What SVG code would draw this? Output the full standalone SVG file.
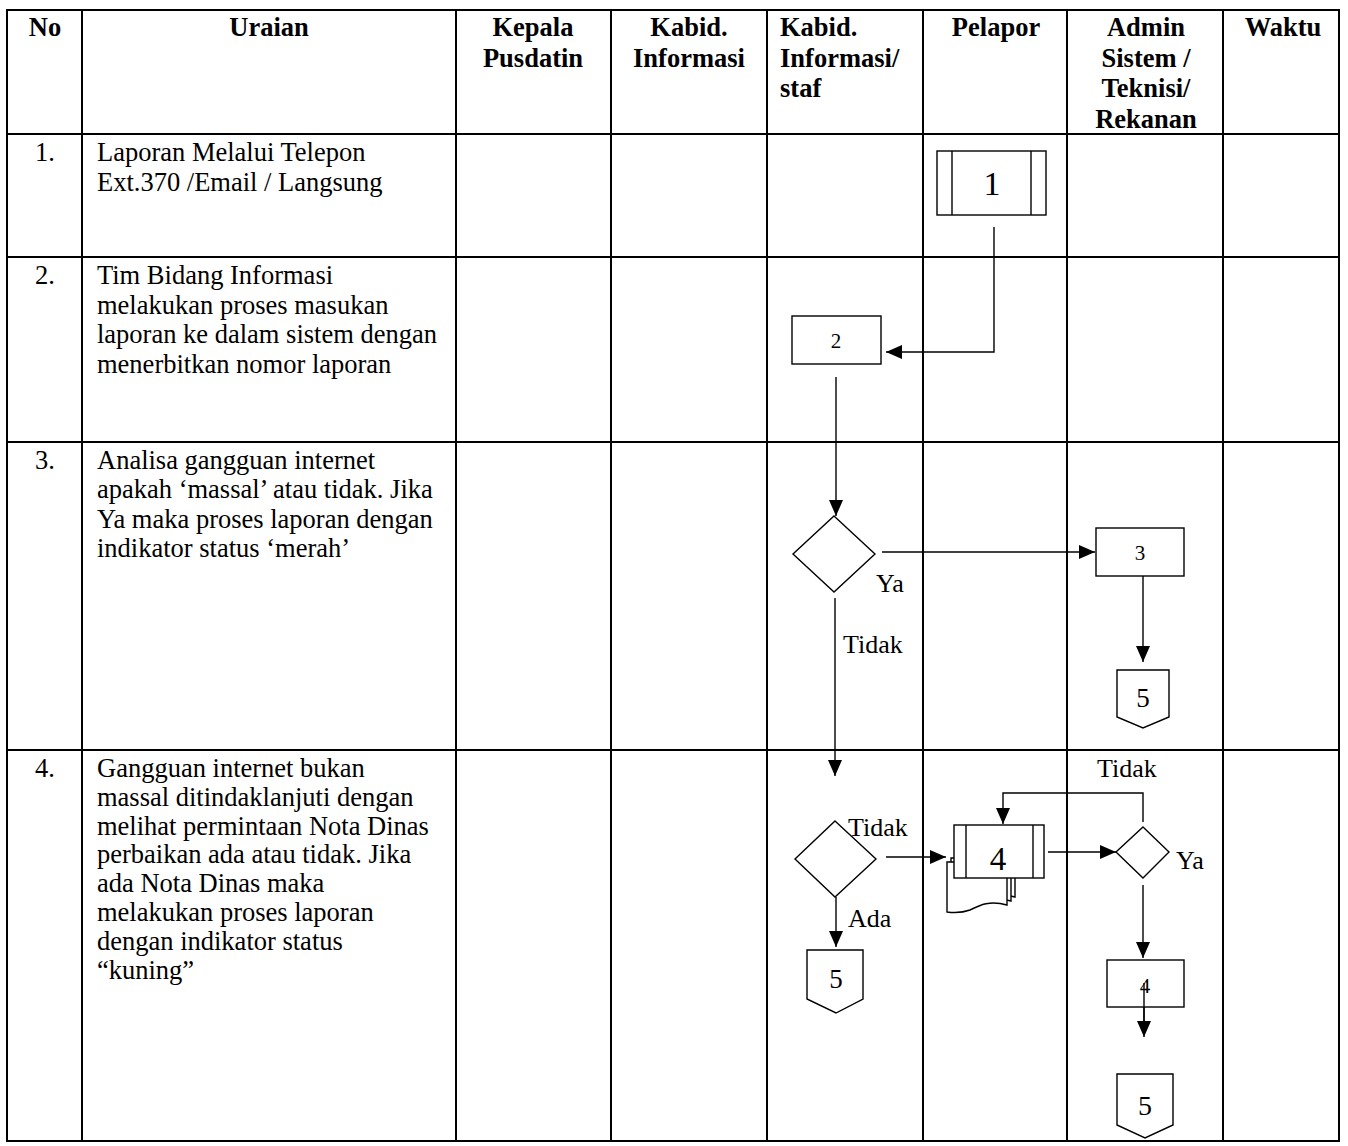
<svg xmlns="http://www.w3.org/2000/svg" width="1348" height="1146" viewBox="0 0 1348 1146">
<style>
.grid{stroke:#000;stroke-width:2;fill:none}
.sh{stroke:#000;stroke-width:1.4;fill:#fff}
.ln{stroke:#000;stroke-width:1.4;fill:none}
.hd{font-family:"Liberation Serif","Times New Roman",serif;font-weight:bold;font-size:26.5px;fill:#000}
.tx{font-family:"Liberation Serif","Times New Roman",serif;font-size:26.5px;fill:#000}
.lb{font-family:"Liberation Serif","Times New Roman",serif;font-size:26px;fill:#000}
.nb{font-family:"Liberation Serif","Times New Roman",serif;fill:#000;text-anchor:middle}
.c{text-anchor:middle}
</style>
<defs>
<marker id="ah" markerUnits="userSpaceOnUse" markerWidth="16" markerHeight="14" refX="16" refY="7" orient="auto">
<path d="M0,0 L16,7 L0,14 Z" fill="#000"/>
</marker>
</defs>
<rect width="1348" height="1146" fill="#fff"/>
<g id="table">
<rect class="grid" x="7" y="10" width="1332" height="1131"/>
<line class="grid" x1="82" y1="10" x2="82" y2="1141"/>
<line class="grid" x1="456" y1="10" x2="456" y2="1141"/>
<line class="grid" x1="611" y1="10" x2="611" y2="1141"/>
<line class="grid" x1="767" y1="10" x2="767" y2="1141"/>
<line class="grid" x1="923" y1="10" x2="923" y2="1141"/>
<line class="grid" x1="1067" y1="10" x2="1067" y2="1141"/>
<line class="grid" x1="1223" y1="10" x2="1223" y2="1141"/>
<line class="grid" x1="7" y1="134" x2="1339" y2="134"/>
<line class="grid" x1="7" y1="257" x2="1339" y2="257"/>
<line class="grid" x1="7" y1="442" x2="1339" y2="442"/>
<line class="grid" x1="7" y1="750" x2="1339" y2="750"/>
</g>
<g id="header">
<text class="hd c" x="45" y="36">No</text>
<text class="hd c" x="269" y="36">Uraian</text>
<text class="hd c" x="533" y="36">Kepala<tspan x="533" dy="30.5">Pusdatin</tspan></text>
<text class="hd c" x="689" y="36">Kabid.<tspan x="689" dy="30.5">Informasi</tspan></text>
<text class="hd" x="780" y="36">Kabid.<tspan x="780" dy="30.5">Informasi/</tspan><tspan x="780" dy="30.5">staf</tspan></text>
<text class="hd c" x="996" y="36">Pelapor</text>
<text class="hd c" x="1146" y="36">Admin<tspan x="1146" dy="30.5">Sistem /</tspan><tspan x="1146" dy="30.5">Teknisi/</tspan><tspan x="1146" dy="30.5">Rekanan</tspan></text>
<text class="hd c" x="1283" y="36">Waktu</text>
</g>
<g id="rows">
<text class="tx c" x="45" y="161">1.</text>
<text class="tx" x="97" y="161">Laporan Melalui Telepon<tspan x="97" dy="30">Ext.370 /Email / Langsung</tspan></text>
<text class="tx c" x="45" y="284">2.</text>
<text class="tx" x="97" y="284">Tim Bidang Informasi<tspan x="97" dy="29.7">melakukan proses masukan</tspan><tspan x="97" dy="29.7">laporan ke dalam sistem dengan</tspan><tspan x="97" dy="29.7">menerbitkan nomor laporan</tspan></text>
<text class="tx c" x="45" y="469">3.</text>
<text class="tx" x="97" y="469">Analisa gangguan internet<tspan x="97" dy="29.3">apakah ‘massal’ atau tidak. Jika</tspan><tspan x="97" dy="29.3">Ya maka proses laporan dengan</tspan><tspan x="97" dy="29.3">indikator status ‘merah’</tspan></text>
<text class="tx c" x="45" y="777">4.</text>
<text class="tx" x="97" y="777">Gangguan internet bukan<tspan x="97" dy="28.8">massal ditindaklanjuti dengan</tspan><tspan x="97" dy="28.8">melihat permintaan Nota Dinas</tspan><tspan x="97" dy="28.8">perbaikan ada atau tidak. Jika</tspan><tspan x="97" dy="28.8">ada Nota Dinas maka</tspan><tspan x="97" dy="28.8">melakukan proses laporan</tspan><tspan x="97" dy="28.8">dengan indikator status</tspan><tspan x="97" dy="28.8">“kuning”</tspan></text>
</g>
<g id="connectors">
<path class="ln" d="M994,227 V352 H886" marker-end="url(#ah)"/>
<path class="ln" d="M836,377 V516" marker-end="url(#ah)"/>
<path class="ln" d="M882,552 H1095" marker-end="url(#ah)"/>
<path class="ln" d="M1143,576 V662" marker-end="url(#ah)"/>
<path class="ln" d="M835,598 V776" marker-end="url(#ah)"/>
<path class="ln" d="M886,857 H946" marker-end="url(#ah)"/>
<path class="ln" d="M1048,852 H1116" marker-end="url(#ah)"/>
<path class="ln" d="M1143,822 V793 H1003 V824" marker-end="url(#ah)"/>
<path class="ln" d="M1143,885 V958" marker-end="url(#ah)"/>
<path class="ln" d="M1144,983 V1037" marker-end="url(#ah)"/>
<path class="ln" d="M836,897 V947" marker-end="url(#ah)"/>
<text class="lb" x="876" y="592">Ya</text>
<text class="lb" x="843" y="653">Tidak</text>
<text class="lb" x="848" y="836">Tidak</text>
<text class="lb" x="848" y="927">Ada</text>
<text class="lb" x="1097" y="777">Tidak</text>
<text class="lb" x="1176" y="869">Ya</text>
</g>
<g id="node1">
<rect class="sh" x="937" y="151" width="109" height="64"/>
<line class="ln" x1="952" y1="151" x2="952" y2="215"/>
<line class="ln" x1="1031" y1="151" x2="1031" y2="215"/>
<text class="nb" x="992" y="195" font-size="34">1</text>
</g>
<g id="node2">
<rect class="sh" x="792" y="316" width="89" height="48"/>
<text class="nb" x="836" y="348" font-size="21">2</text>
</g>
<g id="decision1">
<polygon class="sh" points="834,516 875,554 834,592 793,554"/>
</g>
<g id="node3">
<rect class="sh" x="1096" y="528" width="88" height="48"/>
<text class="nb" x="1140" y="560" font-size="21">3</text>
</g>
<g id="connector5a">
<path class="sh" d="M1117,670 H1169 V717 L1143,728 L1117,717 Z"/>
<text class="nb" x="1143" y="707" font-size="27">5</text>
</g>
<g id="decision2">
<polygon class="sh" points="835,821 876,859 835,897 795,859"/>
</g>
<g id="node4doc">
<path class="sh" d="M955,854 H1015 V897 C998,892 988,897 978,902 C970,905 963,905 955,904 Z"/>
<path class="sh" d="M951,858 H1011 V901 C994,896 984,901 974,906 C966,909 959,909 951,908 Z"/>
<path class="sh" d="M947,862 H1007 V905 C990,900 980,905 970,910 C962,913 955,913 947,912 Z"/>
<rect class="sh" x="954" y="825" width="90" height="53"/>
<line class="ln" x1="966" y1="825" x2="966" y2="878"/>
<line class="ln" x1="1033" y1="825" x2="1033" y2="878"/>
<text class="nb" x="998" y="870" font-size="33">4</text>
</g>
<g id="decision3">
<polygon class="sh" points="1143,827 1169,852 1143,878 1116,852"/>
</g>
<g id="node4b">
<rect class="sh" x="1107" y="960" width="77" height="47"/>
<text class="nb" x="1145" y="993" font-size="21">4</text>
<line class="ln" x1="1144" y1="983" x2="1144" y2="1022"/>
</g>
<g id="connector5c">
<path class="sh" d="M807,950 H863 V999 L836,1013 L807,999 Z"/>
<text class="nb" x="836" y="988" font-size="27">5</text>
</g>
<g id="connector5b">
<path class="sh" d="M1117,1074 H1173 V1125 L1145,1138 L1117,1125 Z"/>
<text class="nb" x="1145" y="1115" font-size="28">5</text>
</g>
</svg>
